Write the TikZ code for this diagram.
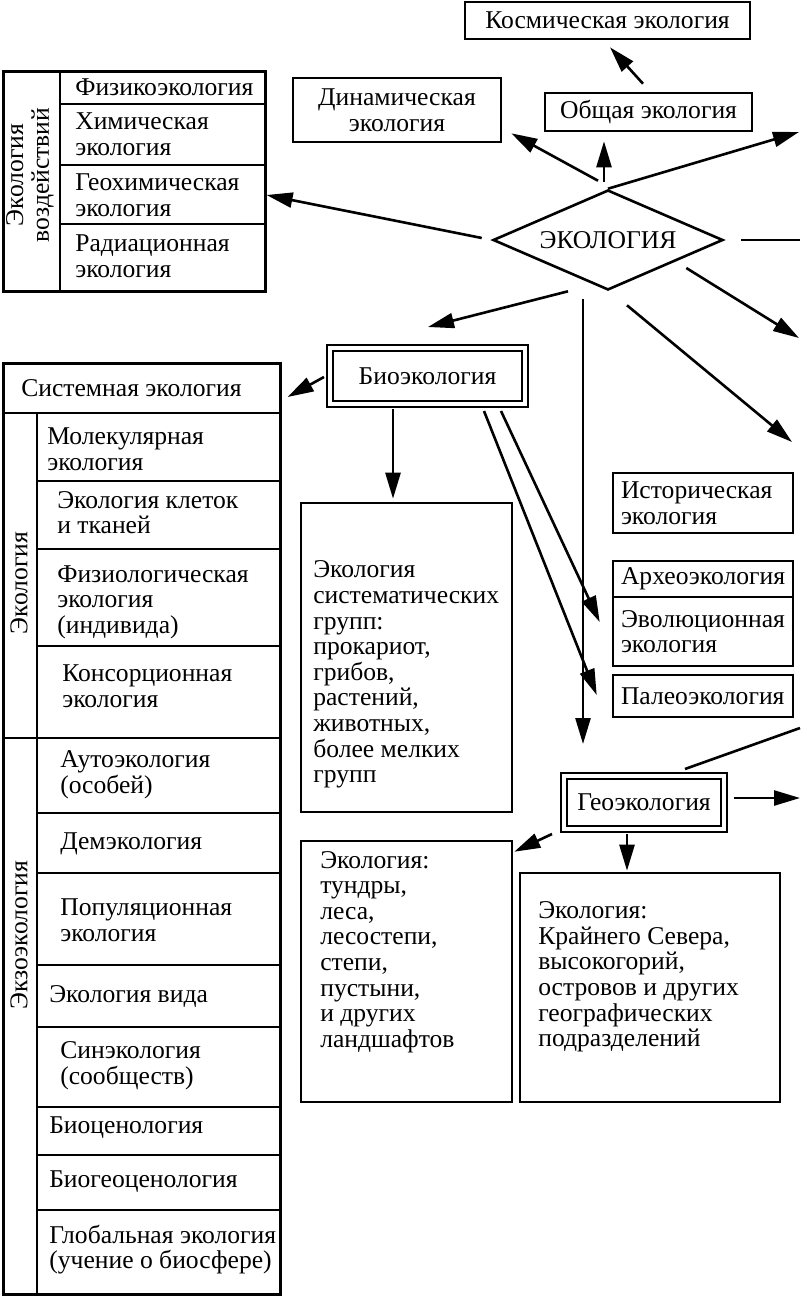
\documentclass[tikz,border=0pt]{standalone}
\usepackage{fontspec}
\setmainfont{Liberation Serif}
\usetikzlibrary{arrows.meta,shapes.geometric,positioning}

\tikzset{
   box/.style={draw, inner sep=0pt, align=center},
   cell/.style={draw, inner xsep=4pt, inner ysep=0pt, text width=82pt, minimum width=90pt, align=left},
   dbox/.style={draw, double, double distance=2pt, line width=1pt, inner sep=0pt},
   txt/.style={inner sep=0pt, anchor=west, align=left},
   vtxt/.style={inner sep=0pt, rotate=90, align=center}
}

\begin{document}
\begin{tikzpicture}[x=0.5pt, y=-0.5pt, line width=1.3pt,
   >={Triangle[length=13pt,width=7.5pt]}, font=\fontsize{12.8pt}{12.8pt}\selectfont]
   \useasboundingbox (0,0) rectangle (800,1296);

   \node[box, minimum width=142.5pt, minimum height=18.5pt] (cosm) at (607.5,20.5) {Космическая экология};
   \node[box, minimum width=103.5pt, minimum height=19pt] (gen) at (648.5,112) {Общая экология};
   \node[box, minimum width=104pt, minimum height=32pt] (dyn) at (397,110) {Динамическая\\экология};
   \node[draw, diamond, aspect=2.3, minimum width=115pt, minimum height=50pt, inner sep=0pt] (eco) at (608,240) {ЭКОЛОГИЯ};

   \node[draw, minimum width=131pt, minimum height=110pt, anchor=north west] (impact) at (2,70) {};
   \draw (60,70) -- (60,290);
   \draw (60,104) -- (264,104) (60,165) -- (264,165) (60,224) -- (264,224);
   \node[vtxt] (impactT) at (30,175) {Экология\\воздействий};
   \node[txt] (phys) at (74,87) {Физикоэкология};
   \node[txt] (chem) at (74,134.5) {Химическая\\экология};
   \node[txt] (gchem) at (74,195) {Геохимическая\\экология};
   \node[txt] (rad) at (74,256) {Радиационная\\экология};

   \node[dbox, minimum width=97.5pt, minimum height=28pt] (bio) at (427.5,376) {Биоэкология};
   \node[dbox, minimum width=80pt, minimum height=26.5pt] (geo) at (644,802.5) {Геоэкология};

   \node[cell, minimum height=30pt] (hist) at (703,503) {Историческая\\экология};
   \node[cell, minimum height=18pt] (arch) at (703,579) {Археоэкология};
   \node[cell, minimum height=34.5pt] (evol) at (703,631.5) {Эволюционная\\экология};
   \node[cell, minimum height=21pt] (paleo) at (703,696) {Палеоэкология};

   \node[draw, minimum width=105.5pt, minimum height=154.5pt] (sys) at (406.5,657.5) {};
   \node[txt] (sysT) at (312,674.5) {Экология\\систематических\\групп:\\прокариот,\\грибов,\\растений,\\животных,\\более мелких\\групп};
   \node[draw, minimum width=105.5pt, minimum height=130.5pt] (land) at (406.5,971.5) {};
   \node[txt] (landT) at (319,952) {Экология:\\тундры,\\леса,\\лесостепи,\\степи,\\пустыни,\\и других\\ландшафтов};
   \node[draw, minimum width=130pt, minimum height=114.5pt] (reg) at (650,987.5) {};
   \node[txt] (regT) at (537,977) {Экология:\\Крайнего Севера,\\высокогорий,\\островов и других\\географических\\подразделений};

   \node[draw, minimum width=138.5pt, minimum height=465.5pt, anchor=north west] (tab) at (2,362) {};
   \draw (2,413) -- (279,413) (2,738) -- (279,738) (37,413) -- (37,1293);
   \draw (37,481) -- (279,481) (37,549) -- (279,549) (37,646) -- (279,646)
         (37,813) -- (279,813) (37,873) -- (279,873) (37,965) -- (279,965)
         (37,1027) -- (279,1027) (37,1107) -- (279,1107) (37,1155) -- (279,1155)
         (37,1210) -- (279,1210);
   \node[txt] (syseco) at (20,388) {Системная экология};
   \node[vtxt] (ecoT) at (19,583) {Экология};
   \node[vtxt] (exoT) at (19,935) {Экзоэкология};
   \node[txt] (mol) at (46,449.5) {Молекулярная\\экология};
   \node[txt] (tiss) at (56,512.5) {Экология клеток\\и тканей};
   \node[txt] (physl) at (56,602) {Физиологическая\\экология\\(индивида)};
   \node[txt] (cons) at (61,686) {Консорционная\\экология};
   \node[txt] (auto) at (59,775) {Аутоэкология\\(особей)};
   \node[txt] (dem) at (59,844) {Демэкология};
   \node[txt] (pop) at (59,920) {Популяционная\\экология};
   \node[txt] (spec) at (48,996) {Экология вида};
   \node[txt] (syn) at (59,1066) {Синэкология\\(сообществ)};
   \node[txt] (bcen) at (48,1128) {Биоценология};
   \node[txt] (bgcen) at (48,1182) {Биогеоценология};
   \node[txt] (glob) at (48,1249.5) {Глобальная экология\\(учение о биосфере)};

   \coordinate (outA) at (799,132);
   \coordinate (outB) at (800,240);
   \coordinate (outC) at (799,338);
   \coordinate (outD) at (792,442);
   \coordinate (outE) at (800,798);
   \coordinate (outF) at (800,728);

   \draw[->] ([shift={(-10,-2)}]eco.west) -- (impact.east |- gchem);
   \draw[->] ([shift={(-10,-8)}]eco.north) -- ([shift={(9,-10)}]dyn.south east);
   \draw[->] ([shift={(-4,-7)}]eco.north) -- ([shift={(-44.5,9)}]gen.south);
   \draw[->] ([shift={(-5.5,-8)}]gen.north) -- ([shift={(2.5,7)}]cosm.south);
   \draw[->] (eco.north) -- (outA);
   \draw ([shift={(17,0)}]eco.east) -- (outB);
   \draw[->] ([shift={(-38,28)}]eco.east) -- (outC);
   \draw[->] ([shift={(19,14)}]eco.south) -- (outD);
   \draw[->] ([shift={(-25,8)}]eco.south) -- ([shift={(-61,-31)}]geo.north);
   \draw[->] ([shift={(-40,0)}]eco.south) -- ([shift={(0.5,-20)}]bio.north);

   \draw[->] ([shift={(-5,1)}]bio.west) -- ([shift={(6,35)}]tab.north east);
   \draw[->] ([shift={(-34.5,4)}]bio.south) -- ([shift={(-13.5,-3)}]sys.north);
   \draw[->] ([shift={(-25,6)}]bio.south east) -- ([shift={(-12,-9.5)}]evol.west);
   \draw[->] ([shift={(-42,6)}]bio.south east) -- ([shift={(-15,-1)}]paleo.west);

   \draw[->] ([shift={(-11,4)}]geo.south west) -- ([shift={(1,12)}]land.north east);
   \draw[->] ([shift={(-17,4)}]geo.south) -- ([shift={(-23,-1)}]reg.north);
   \draw[->] ([shift={(9,-4.5)}]geo.east) -- (outE);
   \draw (outF) -- ([shift={(41,-6)}]geo.north);
\end{tikzpicture}
\end{document}
